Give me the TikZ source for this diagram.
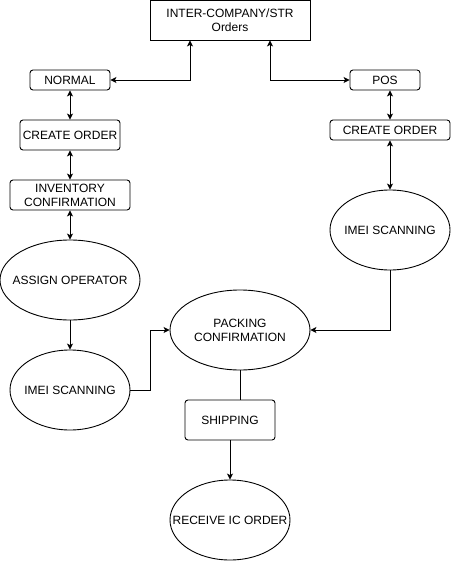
\documentclass[tikz,border=0pt]{standalone}
\usepackage{fontspec}
\setmainfont{Liberation Sans}
\usetikzlibrary{shapes.geometric,arrows.meta}
\begin{document}
\begin{tikzpicture}[x=1pt,y=-1pt,line width=0.9pt,
  font=\fontsize{12}{14}\selectfont,
  box/.style={draw,rounded corners=3pt,inner sep=0pt,align=center,minimum width=#1,minimum height=20pt},
  sqbox/.style={draw,inner sep=0pt,align=center,minimum width=160pt,minimum height=40pt},
  oval/.style={draw,ellipse,inner sep=0pt,minimum width=#1,minimum height=80pt},
  ovtext/.style={label={[align=center,inner sep=0pt]center:#1}},
  arr/.style={-{Stealth[length=6pt,width=6pt,inset=1.5pt]}},
  darr/.style={{Stealth[length=6pt,width=6pt,inset=1.5pt]}-{Stealth[length=6pt,width=6pt,inset=1.5pt]}}]
\useasboundingbox (0,0) rectangle (451,561);
\node[sqbox] (top) at (230,20) {INTER-COMPANY/STR\\Orders};
\node[box=80pt] (normal) at (70,80) {NORMAL};
\node[box=70pt] (pos) at (385,80) {POS};
\node[box=100pt,minimum height=30pt] (lco) at (70,135) {CREATE ORDER};
\node[box=120pt,minimum height=30pt] (inv) at (70,195) {INVENTORY\\CONFIRMATION};
\node[oval=140pt,ovtext={ASSIGN OPERATOR}] (assign) at (70,280) {};
\node[oval=120pt,ovtext={IMEI SCANNING}] (limei) at (70,390) {};
\node[box=120pt] (rco) at (390,130) {CREATE ORDER};
\node[oval=120pt,ovtext={IMEI SCANNING}] (rimei) at (390,230) {};
\node[oval=140pt,ovtext={PACKING\\CONFIRMATION}] (pack) at (240,330) {};
\node[box=90pt,minimum height=40pt] (ship) at (230,420) {SHIPPING};
\node[oval=120pt,ovtext={RECEIVE IC ORDER}] (recv) at (230,520) {};
\draw[darr] ([xshift=-40pt]top.south) |- (normal.east);
\draw[darr] ([xshift=40pt]top.south) |- (pos.west);
\draw[darr] (normal.south) -- (lco.north);
\draw[darr] (lco.south) -- (inv.north);
\draw[darr] (inv.south) -- (assign.north);
\draw[arr] (assign.south) -- (limei.north);
\draw[arr] (limei.east) -- ++(20,0) |- (pack.west);
\draw[darr] ([xshift=5pt]pos.south) -- (rco.north);
\draw[darr] (rco.south) -- (rimei.north);
\draw[arr] (rimei.south) |- (pack.east);
\draw (pack.south) -- (pack.south |- ship.north);
\draw[arr] (ship.south) -- (recv.north);
\end{tikzpicture}
\end{document}
